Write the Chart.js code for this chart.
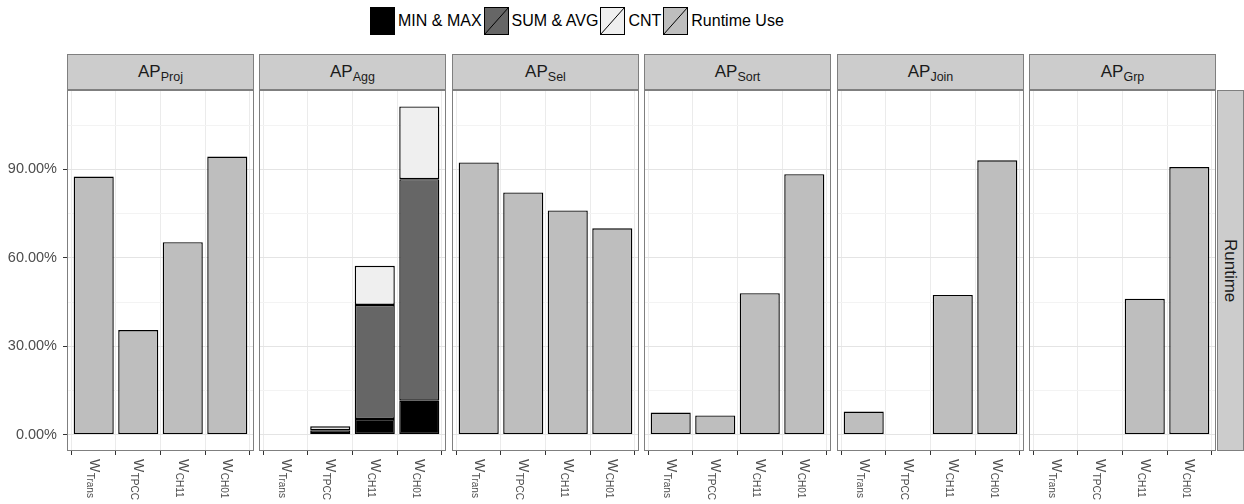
<!DOCTYPE html>
<html>
<head>
<meta charset="utf-8">
<script src="https://cdn.jsdelivr.net/npm/chart.js@4.4.1/dist/chart.umd.min.js"></script>
<style>
  html, body { margin: 0; padding: 0; background: #fff; }
  body { width: 1244px; height: 504px; position: relative; overflow: hidden;
         font-family: "Liberation Sans", Arial, Helvetica, sans-serif; }
  .panel { position: absolute; }
  .panel canvas { display: block; }
  .strip { position: absolute; top: 54px; height: 36px; box-sizing: border-box;
           background: #cccccc; border: 1px solid #7f7f7f; text-align: center;
           font-size: 17px; line-height: 33px; color: #1a1a1a; white-space: nowrap; }
  .strip sub { font-size: 12.5px; vertical-align: -4px; line-height: 0; }
  .rstrip { position: absolute; left: 1217px; top: 90px; width: 27px; height: 361px;
            box-sizing: border-box; background: #cccccc; border: 1px solid #7f7f7f;
            writing-mode: vertical-rl; text-align: center; font-size: 17px;
            line-height: 25px; color: #1a1a1a; }
  #legend { position: absolute; left: 370px; top: 7px; height: 28px; display: flex;
            align-items: center; font-size: 16px; color: #000; white-space: nowrap; }
  #legend svg { display: block; margin-right: 3px; }
  #legend span { margin-right: 2px; }
</style>
</head>
<body>
<div id="legend"></div>
<div id="charts"></div>
<script>
// Facets (analysis pattern) and the workloads on each x axis
const panelNames = ['Proj', 'Agg', 'Sel', 'Sort', 'Join', 'Grp'];
const workloads = ['Trans', 'TPCC', 'CH11', 'CH01'];

// Series, stacked bottom to top
const seriesNames = ['MIN & MAX', 'SUM & AVG', 'CNT', 'Runtime Use'];
const seriesColors = ['#000000', '#666666', '#efefef', '#bebebe'];

// Y axis ticks in percent; every second one is labelled
const yTicks = [0, 15, 30, 45, 60, 75, 90, 105];
const yLabelled = [0, 30, 60, 90];

// Share of runtime (%) per workload, null where no bar is drawn
const runtimeProj = [87.6, 35.5, 65.3, 94.4];
const runtimeSel  = [92.4, 82.2, 76.1, 70.0];
const runtimeSort = [7.5, 6.5, 48.0, 88.4];
const runtimeJoin = [7.8, null, 47.4, 93.1];
const runtimeGrp  = [null, null, 46.1, 90.8];

// Aggregation pattern split by aggregate function (%)
const aggMinMax = [null, 0.5, 5.3, 11.5];
const aggSumAvg = [null, 1.0, 38.7, 75.2];
const aggCnt    = [null, 1.3, 13.3, 24.7];

const none = [null, null, null, null];
const panelSeries = {
  Proj: [none, none, none, runtimeProj],
  Agg:  [aggMinMax, aggSumAvg, aggCnt, none],
  Sel:  [none, none, none, runtimeSel],
  Sort: [none, none, none, runtimeSort],
  Join: [none, none, none, runtimeJoin],
  Grp:  [none, none, none, runtimeGrp]
};

// Shared y range: stacked maximum with 5% expansion on both ends
let stackMax = 0;
panelNames.forEach(p => {
  workloads.forEach((_, i) => {
    const t = panelSeries[p].reduce((a, s) => a + (s[i] || 0), 0);
    stackMax = Math.max(stackMax, t);
  });
});
const yMin = -0.05 * stackMax;
const yMax = stackMax * 1.05;

// Page layout
const PANEL_X = [67, 259, 452, 644, 837, 1029];
const PANEL_W = 187;
const PLOT_TOP = 90;
const PLOT_BOTTOM = 451;
const AXIS_W = 67;
const AXIS_H = 54;
const FONT = '"Liberation Sans", Arial, Helvetica, sans-serif';
const TEXT = '#4d4d4d';

Chart.defaults.font.family = FONT;

// Legend with diagonal-slashed keys
const legend = document.getElementById('legend');
seriesNames.forEach((name, s) => {
  const ns = 'http://www.w3.org/2000/svg';
  const svg = document.createElementNS(ns, 'svg');
  svg.setAttribute('width', '25');
  svg.setAttribute('height', '28');
  const r = document.createElementNS(ns, 'rect');
  r.setAttribute('x', '0.5'); r.setAttribute('y', '0.5');
  r.setAttribute('width', '24'); r.setAttribute('height', '27');
  r.setAttribute('fill', seriesColors[s]); r.setAttribute('stroke', '#000');
  svg.appendChild(r);
  const l = document.createElementNS(ns, 'line');
  l.setAttribute('x1', '0.5'); l.setAttribute('y1', '27.5');
  l.setAttribute('x2', '24.5'); l.setAttribute('y2', '0.5');
  l.setAttribute('stroke', '#000'); l.setAttribute('stroke-width', '1');
  svg.appendChild(l);
  legend.appendChild(svg);
  const t = document.createElement('span');
  t.textContent = name;
  legend.appendChild(t);
});

// Panel frame drawn over the bars
const framePlugin = {
  id: 'frame',
  afterDraw(chart) {
    const a = chart.chartArea, c = chart.ctx;
    c.save();
    c.strokeStyle = '#7f7f7f';
    c.lineWidth = 1;
    c.strokeRect(a.left + 0.5, a.top + 0.5, a.right - a.left - 1, a.bottom - a.top - 1);
    c.restore();
  }
};

// Rotated workload labels "W" with subscript, reading top to bottom
const xLabelPlugin = {
  id: 'xLabels',
  afterDraw(chart) {
    const xs = chart.scales.x, c = chart.ctx;
    c.save();
    c.fillStyle = TEXT;
    c.textBaseline = 'middle';
    c.textAlign = 'left';
    workloads.forEach((w, i) => {
      const x = xs.getPixelForValue(i + 1);
      const y = chart.chartArea.bottom + 8;
      c.save();
      c.translate(x, y);
      c.rotate(Math.PI / 2);
      c.font = '14px ' + FONT;
      c.fillText('W', 0, 0);
      const ww = c.measureText('W').width;
      c.font = '10px ' + FONT;
      c.fillText(w, ww + 0.5, 4);
      c.restore();
    });
    c.restore();
  }
};

// Keep tick labels from adding padding around the plotting area
const noPad = s => { s.paddingTop = 0; s.paddingBottom = 0; s.paddingLeft = 0; s.paddingRight = 0; };

const charts = document.getElementById('charts');
panelNames.forEach((p, k) => {
  const first = k === 0;

  const strip = document.createElement('div');
  strip.className = 'strip';
  strip.style.left = PANEL_X[k] + 'px';
  strip.style.width = PANEL_W + 'px';
  strip.innerHTML = 'AP<sub>' + p + '</sub>';
  document.body.appendChild(strip);

  const box = document.createElement('div');
  box.className = 'panel';
  const left = first ? PANEL_X[k] - AXIS_W : PANEL_X[k];
  box.style.left = left + 'px';
  box.style.top = PLOT_TOP + 'px';
  box.style.width = (PANEL_W + (first ? AXIS_W : 0)) + 'px';
  box.style.height = (PLOT_BOTTOM - PLOT_TOP + AXIS_H) + 'px';
  const cv = document.createElement('canvas');
  box.appendChild(cv);
  charts.appendChild(box);

  const datasets = seriesNames.map((name, s) => ({
    label: name,
    data: panelSeries[p][s].map((v, i) => ({ x: i + 1, y: v })),
    backgroundColor: seriesColors[s],
    borderColor: '#000000',
    borderWidth: 1.4,
    borderSkipped: false,
    barPercentage: 0.9,
    categoryPercentage: 1.0
  }));

  new Chart(cv, {
    type: 'bar',
    data: { datasets },
    options: {
      responsive: true,
      maintainAspectRatio: false,
      animation: false,
      devicePixelRatio: 1,
      layout: { padding: 0, autoPadding: false },
      plugins: { legend: { display: false }, tooltip: { enabled: false } },
      scales: {
        x: {
          type: 'linear', min: 0.4, max: 4.6, stacked: true, offset: false,
          afterBuildTicks: s => { s.ticks = workloads.map((_, i) => ({ value: i + 1 })); },
          afterFit: s => { s.height = AXIS_H; noPad(s); },
          grid: { color: '#ebebeb', lineWidth: 1, drawTicks: true, tickLength: 4,
                  tickColor: '#333333', tickWidth: 1 },
          border: { display: false },
          ticks: { callback: () => '', autoSkip: false, maxRotation: 0, padding: 0 }
        },
        y: {
          type: 'linear', min: yMin, max: yMax, stacked: true,
          afterBuildTicks: s => { s.ticks = yTicks.map(v => ({ value: v })); },
          afterFit: s => { s.width = first ? AXIS_W : 0; noPad(s); },
          grid: {
            color: c => (c.tick && yLabelled.includes(c.tick.value)) ? '#e4e4e4' : '#f3f3f3',
            lineWidth: 1,
            drawTicks: first,
            tickLength: 4,
            tickColor: c => (c.tick && yLabelled.includes(c.tick.value)) ? '#333333' : 'rgba(0,0,0,0)'
          },
          border: { display: false },
          ticks: {
            display: first, autoSkip: false, padding: 6, color: TEXT,
            font: { size: 14.5, family: FONT },
            callback: v => yLabelled.includes(v) ? v.toFixed(2) + '%' : ''
          }
        }
      }
    },
    plugins: [framePlugin, xLabelPlugin]
  });
});

// Row strip on the right
const rs = document.createElement('div');
rs.className = 'rstrip';
rs.textContent = 'Runtime';
document.body.appendChild(rs);
</script>
</body>
</html>
